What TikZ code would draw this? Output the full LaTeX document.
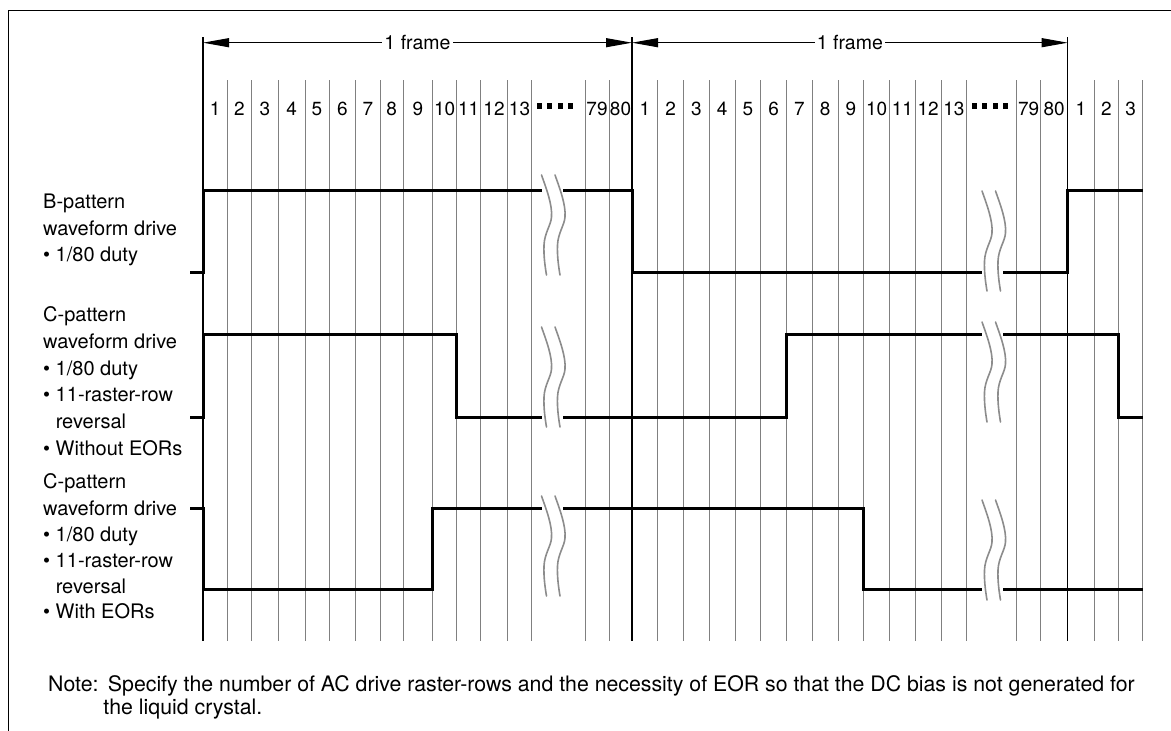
\documentclass[tikz,border=0pt]{standalone}
\usepackage{fontspec}
\setmainfont{TeX Gyre Heros}
\usetikzlibrary{arrows.meta}
\begin{document}
\begin{tikzpicture}[x=1pt,y=-1pt,
  txt/.style={font=\fontsize{19.5}{24}\selectfont, inner sep=0pt},
  lbl/.style={font=\fontsize{20}{26}\selectfont, inner sep=0pt, anchor=base west},
  notetxt/.style={font=\fontsize{21.3}{24}\selectfont, inner sep=0pt, anchor=base west},
  num/.style={font=\fontsize{19}{24}\selectfont, inner sep=0pt, anchor=base},
  gridline/.style={draw=black!50, line width=1pt},
  frameline/.style={draw=black, line width=1.2pt},
  wave/.style={draw=black, line width=3pt, line join=miter},
  brk/.style={draw=black!45, line width=1.6pt, line cap=round},
  dim/.style={draw=black, line width=1pt, {Triangle[length=26pt,width=9pt]}-{Triangle[length=26pt,width=9pt]}},
  sq/.style={fill=black, draw=none},
  brkmark/.pic={
    \draw[brk] (0,0) .. controls (5,14) and (11,30) .. (10,42) .. controls (9.5,50) and (3,58) .. (2.5,70) .. controls (2,82) and (4,94) .. (5,100);
    \draw[brk] (13.5,0) .. controls (18.5,14) and (24.5,30) .. (23.5,42) .. controls (23,50) and (16.5,58) .. (16,70) .. controls (15.5,82) and (17.5,94) .. (18.5,100);
  }
]
\useasboundingbox (0,0) rectangle (1171,731);

% outer frame
\draw[line width=1pt] (8,731) -- (8,10.7) -- (1171,10.7);

% grid lines
\foreach \x in {227.3,251.7,278.3,305,329,355.7,380,403.3,432.7,456.7,480.7,507.3,531.7,585,609,
  657.75,683.5,709.25,735,760.75,786.5,812.25,838,863.75,889.5,915.25,941,966.7,1016.7,1040.7,1094.3,1118.7,1142.7}
  \draw[gridline] (\x,80) -- (\x,641);

% frame boundary lines
\coordinate (b0t) at (203,37);   \coordinate (b0b) at (203,641);
\coordinate (b1t) at (632,37);   \coordinate (b1b) at (632,641);
\coordinate (b2t) at (1067.7,37); \coordinate (b2b) at (1067.7,641);
\draw[frameline] (b0t) -- (b0b);
\draw[frameline] (b1t) -- (b1b);
\draw[frameline] (b2t) -- (b2b);

% 1 frame arrows
\coordinate (f0) at (203,42.7);
\coordinate (f1) at (632,42.7);
\coordinate (f2) at (1067.7,42.7);
\draw[dim] (f0) -- (f1) node[midway, fill=white, txt, inner xsep=2pt, inner ysep=2pt] (fr1) {1 frame};
\draw[dim] (f1) -- (f2) node[midway, fill=white, txt, inner xsep=2pt, inner ysep=2pt] (fr2) {1 frame};

% row numbers
\foreach \x/\t [count=\i] in {215.2/1,239.5/2,265/3,291.7/4,317/5,342.4/6,367.9/7,391.7/8,418/9,444.7/10,468.7/11,494/12,519.5/13,597/79,620.5/80,
  644.9/1,670.6/2,696.4/3,722.1/4,747.9/5,773.6/6,799.4/7,825.1/8,850.9/9,876.6/10,902.4/11,928.1/12,953.9/13,1028.7/79,1054.2/80,1081/1,1106.5/2,1130.7/3}
  \node[num] (n\i) at (\x,115.5) {\t};

% dots after 13
\foreach \x in {531.7,966.7}
  \foreach \d in {5.3,15.6,25.9,36.2}
    \fill[sq] (\x+\d,103) rectangle (\x+\d+5,109);

% waveforms
\draw[wave] (190,272.5) -- (203,272.5) -- (203,190.5) -- (542,190.5);
\draw[wave] (563,190.5) -- (632,190.5) -- (632,272.5) -- (982,272.5);
\draw[wave] (1003,272.5) -- (1067.7,272.5) -- (1067.7,190.5) -- (1143,190.5);

\draw[wave] (190,417) -- (203,417) -- (203,334.5) -- (456.7,334.5) -- (456.7,417) -- (542,417);
\draw[wave] (563,417) -- (786.5,417) -- (786.5,334.5) -- (982,334.5);
\draw[wave] (1003,334.5) -- (1118.7,334.5) -- (1118.7,417) -- (1143,417);

\draw[wave] (190,508.5) -- (203,508.5) -- (203,589) -- (432.7,589) -- (432.7,508.5) -- (542,508.5);
\draw[wave] (563,508.5) -- (863.75,508.5) -- (863.75,589) -- (982,589);
\draw[wave] (1003,589) -- (1143,589);

% break marks
\pic at (541.5,175) {brkmark};
\pic at (541.5,327) {brkmark};
\pic at (541.5,496) {brkmark};
\pic at (982,191) {brkmark};
\pic at (982,322) {brkmark};
\pic at (982,500) {brkmark};

% left labels
\node[lbl] (lb1) at (43,208.3) {B-pattern};
\node[lbl] (lb2) at (43,235) {waveform drive};
\node[lbl] (lb3) at (43,261.7) {• 1/80 duty};

\node[lbl] (lc1) at (43,321.7) {C-pattern};
\node[lbl] (lc2) at (43,348.3) {waveform drive};
\node[lbl] (lc3) at (43,375) {• 1/80 duty};
\node[lbl] (lc4) at (43,401.7) {• 11-raster-row};
\node[lbl] (lc5) at (43,428.3) {\hphantom{• }reversal};
\node[lbl] (lc6) at (43,455) {• Without EORs};

\node[lbl] (ld1) at (43,488) {C-pattern};
\node[lbl] (ld2) at (43,515) {waveform drive};
\node[lbl] (ld3) at (43,541) {• 1/80 duty};
\node[lbl] (ld4) at (43,567) {• 11-raster-row};
\node[lbl] (ld5) at (43,593) {\hphantom{• }reversal};
\node[lbl] (ld6) at (43,618) {• With EORs};

% note
\node[notetxt] (note1) at (48,691) {Note:};
\node[notetxt] (note2) at ([xshift=9pt]note1.base east) {Specify the number of AC drive raster-rows and the necessity of EOR so that the DC bias is not generated for};
\node[notetxt] (note3) at ([xshift=-4.5pt, yshift=-23pt]note2.base west) {the liquid crystal.};
\end{tikzpicture}
\end{document}
